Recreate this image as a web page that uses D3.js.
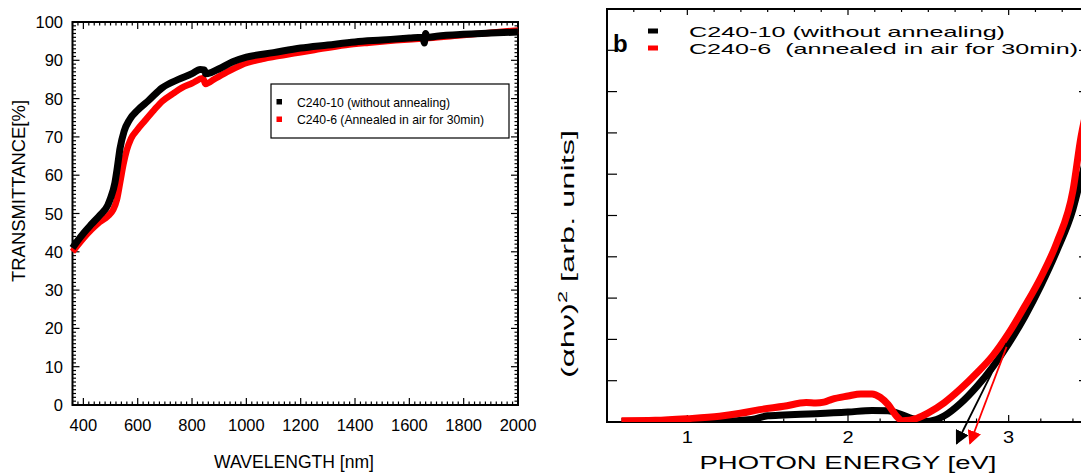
<!DOCTYPE html>
<html lang="en">
<head>
<meta charset="UTF-8">
<title>Transmittance and Tauc plot</title>
<script src="https://d3js.org/d3.v7.min.js"></script>
<style>
    body { margin: 0; background: #fff; }
    svg { display: block; font-family: "Liberation Sans", Arial, sans-serif; }
</style>
</head>
<body>
<script>
    // ---- panel a: transmittance ----
    const wlBlack = [360, 380, 400, 430, 460, 490, 500, 516, 525, 535, 550, 570, 600, 640, 690, 750, 800, 830, 845, 850, 870, 900, 950, 1000, 1100, 1200, 1300, 1400, 1500, 1600, 1650, 1655, 1660, 1665, 1700, 1800, 1900, 2000];
    const tBlack  = [41.0, 43.0, 44.8, 47.2, 49.5, 52.2, 54.0, 58.0, 62.0, 67.0, 71.5, 74.5, 77.0, 79.5, 82.8, 85.0, 86.5, 87.6, 87.5, 86.5, 86.8, 87.8, 89.6, 90.8, 92.0, 93.2, 94.0, 94.8, 95.3, 95.8, 96.0, 94.5, 97.0, 96.0, 96.3, 96.8, 97.1, 97.4];
    const wlRed = [360, 380, 400, 430, 460, 490, 510, 523, 535, 548, 560, 575, 600, 626, 660, 690, 730, 762, 800, 840, 850, 860, 880, 920, 982, 1050, 1100, 1175, 1250, 1366, 1450, 1550, 1672, 1800, 1900, 2000];
    const tRed  = [40.0, 41.8, 43.5, 45.8, 47.8, 49.3, 51.0, 53.5, 58.0, 63.0, 66.6, 69.5, 72.0, 74.2, 77.0, 79.3, 81.3, 82.8, 84.0, 85.3, 83.8, 84.1, 85.0, 86.6, 88.8, 90.2, 90.9, 91.8, 92.7, 94.0, 94.6, 95.2, 95.8, 96.6, 97.2, 97.8];
    const wlTicks = [400, 600, 800, 1000, 1200, 1400, 1600, 1800, 2000];
    const tTicks = [0, 10, 20, 30, 40, 50, 60, 70, 80, 90, 100];
    const legendA = ["C240-10 (without annealing)", "C240-6 (Annealed in air for 30min)"];

    // ---- panel b: (alpha h nu)^2 vs photon energy ----
    const evBlack = [0.59, 1.2, 1.4, 1.5, 1.6, 1.8, 2.0, 2.15, 2.25, 2.32, 2.4, 2.47, 2.55, 2.6, 2.7, 2.8, 2.9, 3.0, 3.1, 3.2, 3.3, 3.4, 3.45, 3.5];
    const ahBlack = [0.01, 0.02, 0.06, 0.15, 0.17, 0.2, 0.24, 0.28, 0.27, 0.2, 0.08, 0.01, 0.06, 0.15, 0.45, 0.85, 1.33, 1.9, 2.55, 3.3, 4.15, 5.15, 5.9, 6.6];
    const evRed = [0.59, 0.8, 1.0, 1.2, 1.33, 1.45, 1.6, 1.74, 1.8, 1.85, 1.9, 2.0, 2.08, 2.15, 2.2, 2.25, 2.3, 2.34, 2.43, 2.5, 2.6, 2.7, 2.8, 2.9, 3.0, 3.1, 3.2, 3.3, 3.4, 3.45, 3.5];
    const ahRed = [0.03, 0.04, 0.08, 0.14, 0.21, 0.3, 0.38, 0.47, 0.46, 0.48, 0.55, 0.63, 0.68, 0.68, 0.6, 0.42, 0.15, 0.03, 0.09, 0.22, 0.47, 0.8, 1.18, 1.6, 2.15, 2.8, 3.5, 4.35, 5.6, 6.9, 7.8];
    const tangentBlack = [[2.987, 1.91], [2.676, -0.52]];
    const tangentRed = [[2.987, 1.82], [2.759, -0.52]];
    const evTicks = [1, 2, 3];
    const legendB = ["C240-10 (without annealing)", "C240-6  (annealed in air for 30min)"];

    const W = 1081, H = 473;
    const svg = d3.select("body").append("svg").attr("width", W).attr("height", H);
    const defs = svg.append("defs");

    function tickLines(g, vals, fn) {
        g.selectAll(null).data(vals).enter().append("line")
            .each(function(d) { const c = fn(d); d3.select(this).attr("x1", c[0]).attr("y1", c[1]).attr("x2", c[2]).attr("y2", c[3]); })
            .attr("stroke", "#000").attr("stroke-width", 1.2);
    }

    // ================= panel a =================
    const xA = d3.scaleLinear().domain([360, 2000]).range([72.5, 518]);
    const yA = d3.scaleLinear().domain([0, 100]).range([405, 22]);
    const gA = svg.append("g");

    // ticks, inward on all four sides
    const minorX = d3.range(360, 2001, 20);
    const minorY = d3.range(0, 101, 1);
    const isMajX = d => d % 200 === 0;
    const isMajY = d => d % 10 === 0;
    tickLines(gA, minorX, d => [xA(d), yA.range()[0], xA(d), yA.range()[0] - (isMajX(d) ? 7 : 3.5)]);
    tickLines(gA, minorX, d => [xA(d), yA.range()[1], xA(d), yA.range()[1] + (isMajX(d) ? 7 : 3.5)]);
    tickLines(gA, minorY, d => [xA.range()[0], yA(d), xA.range()[0] + (isMajY(d) ? 7 : 3.5), yA(d)]);
    tickLines(gA, minorY, d => [xA.range()[1], yA(d), xA.range()[1] - (isMajY(d) ? 7 : 3.5), yA(d)]);

    gA.append("rect")
        .attr("x", xA.range()[0]).attr("y", yA.range()[1])
        .attr("width", xA.range()[1] - xA.range()[0]).attr("height", yA.range()[0] - yA.range()[1])
        .attr("fill", "none").attr("stroke", "#000").attr("stroke-width", 2);

    gA.selectAll(".xl").data(wlTicks).enter().append("text")
        .attr("x", d => xA(d)).attr("y", 431)
        .attr("text-anchor", "middle").attr("font-size", 16.5).text(d => d);
    gA.selectAll(".yl").data(tTicks).enter().append("text")
        .attr("x", 63).attr("y", d => yA(d) + 6)
        .attr("text-anchor", "end").attr("font-size", 16.5).text(d => d);

    gA.append("text").attr("x", 294).attr("y", 468).attr("text-anchor", "middle")
        .attr("font-size", 18).attr("textLength", 160).attr("lengthAdjust", "spacingAndGlyphs")
        .text("WAVELENGTH [nm]");
    gA.append("text").attr("transform", "translate(25,191) rotate(-90)").attr("text-anchor", "middle")
        .attr("font-size", 18).attr("textLength", 182).attr("lengthAdjust", "spacingAndGlyphs")
        .text("TRANSMITTANCE[%]");

    const lineA = d3.line().curve(d3.curveMonotoneX).x(d => xA(d[0])).y(d => yA(d[1]));
    gA.append("path").datum(d3.zip(wlRed, tRed)).attr("d", lineA)
        .attr("fill", "none").attr("stroke", "#ff0000").attr("stroke-width", 6.5).attr("stroke-linejoin", "round");
    gA.append("path").datum(d3.zip(wlBlack, tBlack)).attr("d", lineA)
        .attr("fill", "none").attr("stroke", "#000").attr("stroke-width", 7).attr("stroke-linejoin", "round");

    // legend
    const legA = gA.append("g");
    legA.append("rect").attr("x", 271).attr("y", 84).attr("width", 238).attr("height", 54)
        .attr("fill", "#fff").attr("stroke", "#000").attr("stroke-width", 1.2);
    legA.selectAll("rect.m").data(legendA).enter().append("rect")
        .attr("x", 276.5).attr("y", (d, i) => 99 + i * 17.5).attr("width", 5.5).attr("height", 5.5)
        .attr("fill", (d, i) => i ? "#ff0000" : "#000");
    legA.selectAll("text").data(legendA).enter().append("text")
        .attr("x", 297).attr("y", (d, i) => 106.5 + i * 17.5).attr("font-size", 12.2)
        .text(d => d);

    // ================= panel b =================
    const xB = d3.scaleLinear().domain([0.5, 3.5]).range([607, 1089]);
    const yB = d3.scaleLinear().domain([0, 10]).range([422, 9]);
    const gB = svg.append("g");

    defs.append("clipPath").attr("id", "clipB")
        .append("rect").attr("x", 607).attr("y", 9).attr("width", 482).attr("height", 413);

    const topMinor = d3.range(0.5, 3.51, 1 / 6);
    const botMinor = d3.range(0.6, 3.51, 0.2);
    const isInt = d => Math.abs(d - Math.round(d)) < 1e-6;
    tickLines(gB, botMinor, d => [xB(d), 422, xB(d), 422 - (isInt(d) ? 7 : 3.5)]);
    tickLines(gB, topMinor, d => [xB(d), 9, xB(d), 9 + (isInt(d) ? 6 : 3)]);
    const yMaj = d3.range(1, 10, 1);
    tickLines(gB, yMaj, d => [607, yB(d), 617, yB(d)]);
    tickLines(gB, yMaj, d => [1089, yB(d), 1079, yB(d)]);

    gB.append("rect").attr("x", 607).attr("y", 9).attr("width", 482).attr("height", 413)
        .attr("fill", "none").attr("stroke", "#000").attr("stroke-width", 2);

    gB.selectAll(".xl").data(evTicks).enter().append("text")
        .attr("x", d => xB(d)).attr("y", 443).attr("text-anchor", "middle")
        .attr("font-size", 16).attr("transform", d => `translate(${xB(d)},0) scale(1.25,1) translate(${-xB(d)},0)`)
        .text(d => d);
    gB.append("text").attr("x", 848).attr("y", 469).attr("text-anchor", "middle")
        .attr("font-size", 17.5).attr("textLength", 297).attr("lengthAdjust", "spacingAndGlyphs")
        .text("PHOTON ENERGY [eV]");
    const yt = gB.append("text").attr("transform", "translate(574,254) rotate(-90)").attr("text-anchor", "middle")
        .attr("font-size", 18).attr("textLength", 248).attr("lengthAdjust", "spacingAndGlyphs");
    yt.append("tspan").text("(\u03b1h\u03bd)");
    yt.append("tspan").attr("dy", -7).attr("font-size", 12).text("2");
    yt.append("tspan").attr("dy", 7).text(" [arb. units]");

    const lineB = d3.line().curve(d3.curveMonotoneX).x(d => xB(d[0])).y(d => yB(d[1]));
    const curves = gB.append("g").attr("clip-path", "url(#clipB)");
    curves.append("path").datum(d3.zip(evBlack, ahBlack)).attr("d", lineB)
        .attr("fill", "none").attr("stroke", "#000").attr("stroke-width", 7).attr("stroke-linejoin", "round");
    curves.append("path").datum(d3.zip(evRed, ahRed)).attr("d", lineB)
        .attr("fill", "none").attr("stroke", "#ff0000").attr("stroke-width", 7).attr("stroke-linejoin", "round");

    // tangent arrows
    [["arrK", "#000"], ["arrR", "#ff0000"]].forEach(([id, c]) => {
        defs.append("marker").attr("id", id).attr("markerUnits", "userSpaceOnUse")
            .attr("viewBox", "0 0 10 10").attr("refX", 9).attr("refY", 5)
            .attr("markerWidth", 14).attr("markerHeight", 14).attr("orient", "auto")
            .append("path").attr("d", "M0,0 L10,5 L0,10 Z").attr("fill", c);
    });
    [[tangentBlack, "#000", "arrK"], [tangentRed, "#ff0000", "arrR"]].forEach(([pts, c, m]) => {
        gB.append("line")
            .attr("x1", xB(pts[0][0])).attr("y1", yB(pts[0][1]))
            .attr("x2", xB(pts[1][0])).attr("y2", yB(pts[1][1]))
            .attr("stroke", c).attr("stroke-width", 1.8).attr("marker-end", `url(#${m})`);
    });

    // legend + panel letter
    gB.append("text").attr("x", 613).attr("y", 52).attr("font-size", 24).attr("font-weight", "bold").text("b");
    gB.selectAll("rect.m").data(legendB).enter().append("rect")
        .attr("x", 648).attr("y", (d, i) => 28.5 + i * 17).attr("width", 10).attr("height", 5)
        .attr("fill", (d, i) => i ? "#ff0000" : "#000");
    gB.selectAll("text.lg").data(legendB).enter().append("text")
        .attr("class", "lg").style("white-space", "pre")
        .attr("x", 689).attr("y", (d, i) => 36.5 + i * 17).attr("font-size", 15)
        .attr("textLength", (d, i) => i ? 389 : 316).attr("lengthAdjust", "spacingAndGlyphs")
        .text(d => d);
</script>
</body>
</html>
